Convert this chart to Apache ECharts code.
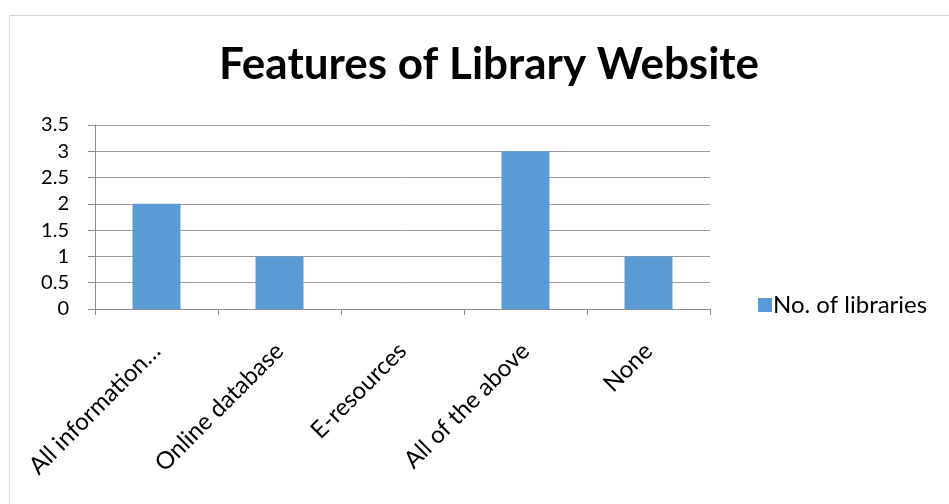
<!DOCTYPE html>
<html>
<head>
<meta charset="utf-8">
<script src="https://cdn.jsdelivr.net/npm/echarts@6/dist/echarts.min.js"></script>
<style>
html,body{margin:0;padding:0;background:#fff;}
#chart{width:949px;height:504px;}
</style>
</head>
<body>
<div id="chart"></div>
<script>
const categories = ["All information\u2026", "Online database", "E-resources", "All of the above", "None"];
const values = [2, 1, 0, 3, 1];
const seriesName = "No. of libraries";
const titleText = "Features of Library Website";
const yMin = 0, yMax = 3.5, yStep = 0.5;

const chart = echarts.init(document.getElementById('chart'), null, {renderer: 'canvas'});
const font = 'Lato, "Open Sans", sans-serif';
chart.setOption({
  animation: false,
  backgroundColor: '#fff',
  graphic: [{
    type: 'rect', silent: true,
    shape: {x: 9.5, y: 15.5, width: 1200, height: 1200},
    style: {fill: 'none', stroke: '#d4d4d4', lineWidth: 1}
  }],
  title: {
    text: titleText, left: 484, top: 38, textAlign: 'center',
    textStyle: {fontFamily: font, fontWeight: 'bold', fontSize: 44, color: '#000'}
  },
  legend: {
    data: [seriesName], left: 753, top: 288, orient: 'vertical',
    icon: 'rect', itemWidth: 14, itemHeight: 14, itemGap: 0,
    textStyle: {fontFamily: font, fontSize: 24, color: '#000', padding: [0, 0, 0, -4]}
  },
  grid: {left: 95, right: 239, top: 125, bottom: 195},
  xAxis: {
    type: 'category', data: categories,
    axisLine: {lineStyle: {color: '#8c8c8c', width: 1}},
    axisTick: {show: true, length: 6, lineStyle: {color: '#8c8c8c'}},
    axisLabel: {rotate: 45, margin: 38, interval: 0, fontFamily: font, fontSize: 24, color: '#000'}
  },
  yAxis: {
    type: 'value', min: yMin, max: yMax, interval: yStep,
    axisLine: {show: true, lineStyle: {color: '#8c8c8c', width: 1}},
    axisTick: {show: true, length: 7, lineStyle: {color: '#8c8c8c'}},
    splitLine: {lineStyle: {color: '#9a9a9a', width: 1}},
    axisLabel: {margin: 26, fontFamily: font, fontSize: 20, color: '#000'}
  },
  series: [{
    name: seriesName, type: 'bar', data: values, barWidth: '39%',
    itemStyle: {color: '#5b9bd5'}
  }]
});
</script>
</body>
</html>
